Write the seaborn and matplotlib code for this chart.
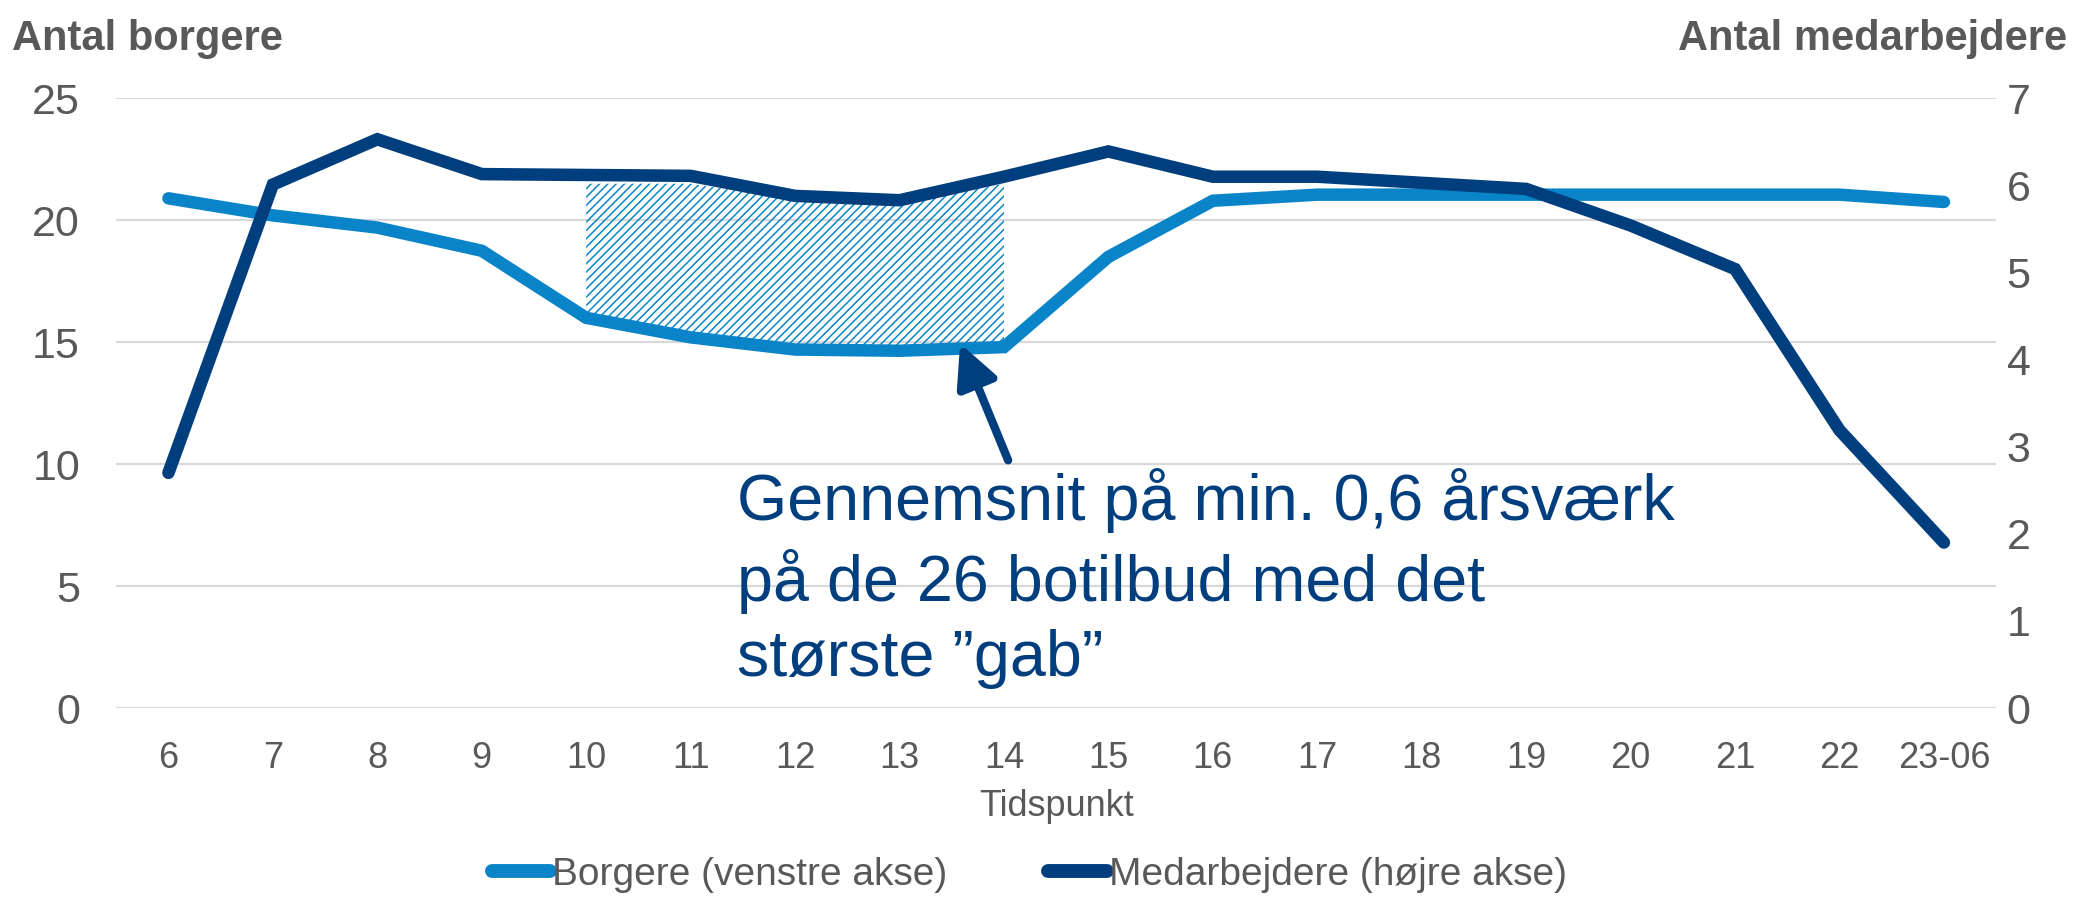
import matplotlib
matplotlib.use("Agg")
import matplotlib.pyplot as plt
import seaborn as sns
import numpy as np
import pandas as pd
from matplotlib.lines import Line2D

# ---- data ----
tidspunkt = ["6", "7", "8", "9", "10", "11", "12", "13", "14", "15", "16", "17",
             "18", "19", "20", "21", "22", "23-06"]
borgere = [20.9, 20.2, 19.7, 18.75, 16.0, 15.2, 14.7, 14.65, 14.8, 18.5, 20.8,
           21.05, 21.05, 21.05, 21.05, 21.05, 21.05, 20.75]
medarbejdere = [2.70, 6.01, 6.53, 6.13, 6.12, 6.11, 5.88, 5.83, 6.10, 6.39, 6.10,
                6.10, 6.03, 5.96, 5.54, 5.04, 3.19, 1.90]
gab_idx = [4, 5, 6, 7, 8]             # 10..14
gab_top = [21.5, 21.5, 20.85, 20.65, 21.5]  # left-axis units

left_ticks = [0, 5, 10, 15, 20, 25]
right_ticks = [0, 1, 2, 3, 4, 5, 6, 7]

LIGHT = "#0A84C8"
DARK = "#003E7E"
GRAY = "#595959"
GRID = "#D9D9D9"

sns.set_theme(style="white")
plt.rcParams["font.family"] = ["Liberation Sans", "DejaVu Sans"]
plt.rcParams["hatch.linewidth"] = 1.1

fig = plt.figure(figsize=(20.75, 9.02), dpi=100)
ax = fig.add_axes([0.056, 0.215, 0.906, 0.676])
ax2 = ax.twinx()

xs = np.arange(len(tidspunkt))
df = pd.DataFrame({"x": xs, "borgere": borgere, "medarbejdere": medarbejdere})

# hatched gap area
gx = xs[gab_idx]
gb = [borgere[i] for i in gab_idx]
ax.fill_between(gx, gb, gab_top, facecolor="none", edgecolor=LIGHT,
                hatch="////", linewidth=0, zorder=1)

sns.lineplot(data=df, x="x", y="borgere", ax=ax, color=LIGHT, legend=False, zorder=3)
sns.lineplot(data=df, x="x", y="medarbejdere", ax=ax2, color=DARK, legend=False, zorder=3)
for a in (ax, ax2):
    for ln in a.get_lines():
        ln.set_linewidth(9)
        ln.set_solid_capstyle("round")
        ln.set_solid_joinstyle("miter")

ax.set_xlim(-0.5, len(tidspunkt) - 0.5)
ax.set_ylim(0, 25)
ax2.set_ylim(0, 7)
ax.set_yticks(left_ticks)
ax2.set_yticks(right_ticks)
ax.set_xticks(xs)
ax.set_xticklabels(tidspunkt)

for a in (ax, ax2):
    for s in a.spines.values():
        s.set_visible(False)
ax.grid(False)
ax2.grid(False)
for t in left_ticks:
    ax.axhline(t, color=GRID, linewidth=1.6, zorder=0)

ax.tick_params(axis="y", labelsize=31, colors=GRAY, length=0, pad=26)
ax2.tick_params(axis="y", labelsize=31, colors=GRAY, length=0, pad=7.5)
ax.tick_params(axis="x", labelsize=26, colors=GRAY, length=0, pad=24)
ax.set_xlabel("Tidspunkt", fontsize=26, color=GRAY)
ax.xaxis.label.set_va("center")
ax.xaxis.set_label_coords(0.5, -0.161)
ax.set_ylabel("")
ax2.set_ylabel("")

fig.text(0.006, 0.957, "Antal borgere", fontsize=30, fontweight="bold", color=GRAY,
         ha="left", va="center")
fig.text(0.996, 0.957, "Antal medarbejdere", fontsize=30, fontweight="bold", color=GRAY,
         ha="right", va="center")

# annotation
ax.annotate("", xy=(7.58, 14.95), xytext=(8.04, 10.16),
            arrowprops=dict(arrowstyle="-|>,head_length=0.85,head_width=0.42",
                            color=DARK, lw=6, mutation_scale=30, shrinkA=0, shrinkB=0),
            zorder=5)
ax.text(5.44, 9.85, "Gennemsnit på min. 0,6 årsværk\npå de 26 botilbud med det\nstørste ”gab”",
        fontsize=46.5, color=DARK, ha="left", va="top", linespacing=1.31, zorder=5)

handles = [Line2D([0], [0], color=LIGHT, lw=10, solid_capstyle="round"),
           Line2D([0], [0], color=DARK, lw=10, solid_capstyle="round")]
leg = fig.legend(handles, ["Borgere (venstre akse)", "Medarbejdere (højre akse)"],
                 loc="center", bbox_to_anchor=(0.496, 0.030), ncol=2, frameon=False,
                 fontsize=28, handlelength=1.5, handletextpad=0.05, columnspacing=2.6)
for t in leg.get_texts():
    t.set_color(GRAY)

fig.savefig("out.png", dpi=100)
